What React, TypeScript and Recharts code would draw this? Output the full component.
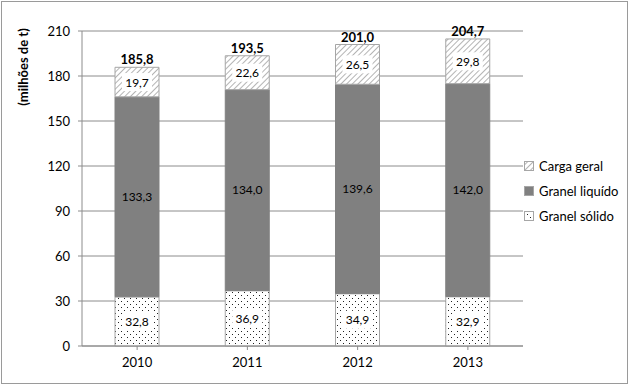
import { BarChart, Bar, XAxis, YAxis, CartesianGrid, LabelList } from "recharts";

const years = ["2010", "2011", "2012", "2013"];
const granelSolido = [32.8, 36.9, 34.9, 32.9];
const granelLiquido = [133.3, 134.0, 139.6, 142.0];
const cargaGeral = [19.7, 22.6, 26.5, 29.8];
const totals = [185.8, 193.5, 201.0, 204.7];
const yTicks = [0, 30, 60, 90, 120, 150, 180, 210];

const data = years.map((year, i) => ({
    year,
    solido: granelSolido[i],
    liquido: granelLiquido[i],
    geral: cargaGeral[i],
    total: totals[i],
}));

const FONT = "Lato, 'Open Sans', sans-serif";
const fmt = (v: any) => Number(v).toFixed(1).replace(".", ",");

const legendItems = [
    { name: "Carga geral", fill: "url(#hatch)" },
    { name: "Granel liquído", fill: "#808080" },
    { name: "Granel sólido", fill: "url(#dots)" },
];

// label with a white box behind it, so the pattern doesn't run through the text
function BoxedLabel(props: any) {
    const { x, y, width, height, value } = props;
    const cx = Number(x) + Number(width) / 2;
    const cy = Number(y) + Number(height) / 2;
    return (
        <g>
            <rect x={cx - 15} y={cy - 9} width={30} height={18} fill="#fff" />
            <text x={cx} y={cy} textAnchor="middle" dominantBaseline="central" fill="#000" fontFamily={FONT} fontSize={12}>
                {fmt(value)}
            </text>
        </g>
    );
}

function LegendBox() {
    return (
        <div style={{ position: "absolute", left: 523, top: 153, fontFamily: FONT, fontSize: 13, color: "#000" }}>
            {legendItems.map((it) => (
                <div key={it.name} style={{ display: "flex", alignItems: "center", height: 25 }}>
                    <svg width={12} height={12} style={{ marginRight: 4 }}>
                        <rect x={1.5} y={1.5} width={9} height={9} fill={it.fill} stroke="#a6a6a6" />
                    </svg>
                    <span>{it.name}</span>
                </div>
            ))}
        </div>
    );
}

export default function App() {
    if (typeof document !== "undefined") document.body.style.margin = "0";
    return (
        <div style={{ position: "relative", width: 629, height: 385 }}>
            <svg width={0} height={0} style={{ position: "absolute" }}>
                <defs>
                    <pattern id="hatch" width={4} height={4} patternUnits="userSpaceOnUse" patternTransform="rotate(45)">
                        <rect width={4} height={4} fill="#fff" />
                        <line x1={0} y1={0} x2={0} y2={4} stroke="#8c8c8c" strokeWidth={1.3} />
                    </pattern>
                    <pattern id="dots" width={6} height={6} patternUnits="userSpaceOnUse">
                        <rect width={6} height={6} fill="#fff" />
                        <rect x={1} y={1} width={1} height={1} fill="#222" />
                        <rect x={4} y={4} width={1} height={1} fill="#222" />
                    </pattern>
                </defs>
            </svg>
            <div style={{ position: "absolute", left: 1, top: 1, width: 625, height: 381, border: "1px solid #9a9a9a" }} />
            <div
                style={{
                    position: "absolute",
                    left: 23,
                    top: 67,
                    transform: "translate(-50%, -50%) rotate(-90deg)",
                    fontFamily: FONT,
                    fontSize: 13,
                    fontWeight: "bold",
                    whiteSpace: "nowrap",
                }}
            >
                (milhões de t)
            </div>
            <BarChart
                width={629}
                height={385}
                data={data}
                margin={{ top: 31, right: 106, bottom: 9, left: 0 }}
                barCategoryGap={33}
                style={{ position: "absolute", left: 0, top: 0 }}
            >
                <CartesianGrid vertical={false} stroke="#8c8c8c" />
                <XAxis
                    dataKey="year"
                    height={30}
                    stroke="#8c8c8c"
                    tickLine={{ stroke: "#8c8c8c" }}
                    tick={{ fill: "#000", fontFamily: FONT, fontSize: 13 }}
                    tickSize={4}
                    tickMargin={8}
                />
                <YAxis
                    width={82}
                    domain={[0, 210]}
                    ticks={yTicks}
                    stroke="#8c8c8c"
                    tick={{ fill: "#000", fontFamily: FONT, fontSize: 13 }}
                    tickSize={4}
                    tickMargin={8}
                />
                <Bar dataKey="solido" stackId="a" fill="url(#dots)" stroke="#a6a6a6" isAnimationActive={false}>
                    <LabelList dataKey="solido" content={<BoxedLabel />} />
                </Bar>
                <Bar dataKey="liquido" stackId="a" fill="#808080" stroke="#808080" isAnimationActive={false}>
                    <LabelList dataKey="liquido" position="center" formatter={fmt} fill="#000" fontFamily={FONT} fontSize={12} />
                </Bar>
                <Bar dataKey="geral" stackId="a" fill="url(#hatch)" stroke="#a6a6a6" isAnimationActive={false}>
                    <LabelList dataKey="geral" content={<BoxedLabel />} />
                    <LabelList dataKey="total" position="top" offset={3} formatter={fmt} fill="#000" fontFamily={FONT} fontSize={13} fontWeight="bold" />
                </Bar>
            </BarChart>
            <LegendBox />
        </div>
    );
}
